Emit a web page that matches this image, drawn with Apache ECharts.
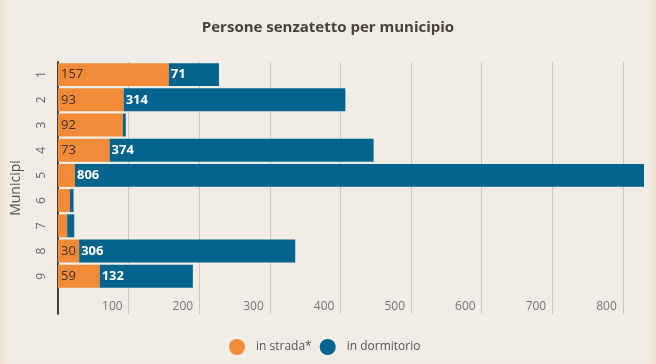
<!DOCTYPE html>
<html>
<head>
<meta charset="utf-8">
<script src="https://cdn.jsdelivr.net/npm/echarts@6/dist/echarts.min.js"></script>
<style>
  html, body { margin: 0; padding: 0; }
  #wrap { width: 656px; height: 364px; background: #f0ece6;
    box-shadow: inset 5px 0 5px -3px #f6dcc4, inset -5px 0 5px -3px #f6dcc4; }
  #chart { width: 656px; height: 364px; }
</style>
</head>
<body>
<div id="wrap"><div id="chart"></div></div>
<script>
const title = 'Persone senzatetto per municipio';
const categories = ['1', '2', '3', '4', '5', '6', '7', '8', '9'];
const seriesNames = ['in strada*', 'in dormitorio'];
const inStrada = [157, 93, 92, 73, 24, 17, 13, 30, 59];
const inDormitorio = [71, 314, 4, 374, 806, 5, 10, 306, 132];
const xTicks = [100, 200, 300, 400, 500, 600, 700, 800];
const yAxisName = 'Municipi';

const ORANGE = '#f28b37';
const BLUE = '#02638c';
const FONT = "'Open Sans', 'Noto Sans', sans-serif";

const totals = inStrada.map((v, i) => v + inDormitorio[i]);
const xMax = Math.max(...totals);

const chart = echarts.init(document.getElementById('chart'), null, { renderer: 'canvas' });

function labelFmt(p) { return p.value >= 28 ? String(p.value) : ''; }

chart.setOption({
  backgroundColor: 'transparent',
  animation: false,
  title: {
    text: title,
    left: 'center',
    top: 15,
    textStyle: { fontFamily: "'Open Sans', sans-serif", fontWeight: 'bold', fontSize: 15, color: '#4a403c' }
  },
  legend: {
    left: 224,
    top: 334,
    itemWidth: 16,
    itemHeight: 18,
    itemGap: 8,
    icon: 'circle',
    data: seriesNames,
    textStyle: { fontFamily: FONT, fontSize: 12, color: '#555', padding: [0, 0, 0, 6] }
  },
  grid: { left: 58, right: 12, top: 62, bottom: 50, containLabel: false, outerBoundsMode: 'none' },
  xAxis: {
    type: 'value',
    min: 0,
    max: xMax,
    interval: 100,
    axisLine: { show: false },
    axisTick: { show: false },
    splitLine: { show: true, showMinLine: false, showMaxLine: false, lineStyle: { color: '#cdc8c2', width: 1 } },
    axisLabel: {
      inside: true,
      margin: 1,
      align: 'right',
      padding: [0, 6, 0, 0],
      showMinLabel: false,
      showMaxLabel: false,
      fontFamily: FONT,
      fontSize: 12,
      color: '#777',
      formatter: v => (xTicks.indexOf(v) >= 0 ? String(v) : '')
    }
  },
  yAxis: {
    type: 'category',
    inverse: true,
    data: categories.concat(['']),
    name: yAxisName,
    nameLocation: 'middle',
    nameGap: 35,
    nameRotate: 90,
    nameTextStyle: { fontFamily: FONT, fontSize: 14, color: '#555' },
    axisLine: { show: true, lineStyle: { color: '#4a3c38', width: 2 } },
    axisTick: { show: false },
    axisLabel: { rotate: 90, margin: 10, fontFamily: FONT, fontSize: 12, color: '#666' },
    splitLine: { show: false }
  },
  series: [
    {
      name: seriesNames[0],
      type: 'bar',
      stack: 'tot',
      barCategoryGap: '9%',
      data: inStrada,
      itemStyle: { color: ORANGE },
      label: { show: true, position: 'insideLeft', distance: 3, fontFamily: FONT, fontSize: 13, color: '#3d2f2a', formatter: labelFmt }
    },
    {
      name: seriesNames[1],
      type: 'bar',
      stack: 'tot',
      barCategoryGap: '9%',
      data: inDormitorio,
      itemStyle: { color: BLUE },
      label: { show: true, position: 'insideLeft', distance: 2, fontFamily: FONT, fontSize: 13, fontWeight: 'bold', color: '#fff', formatter: labelFmt }
    }
  ]
});
</script>
</body>
</html>
